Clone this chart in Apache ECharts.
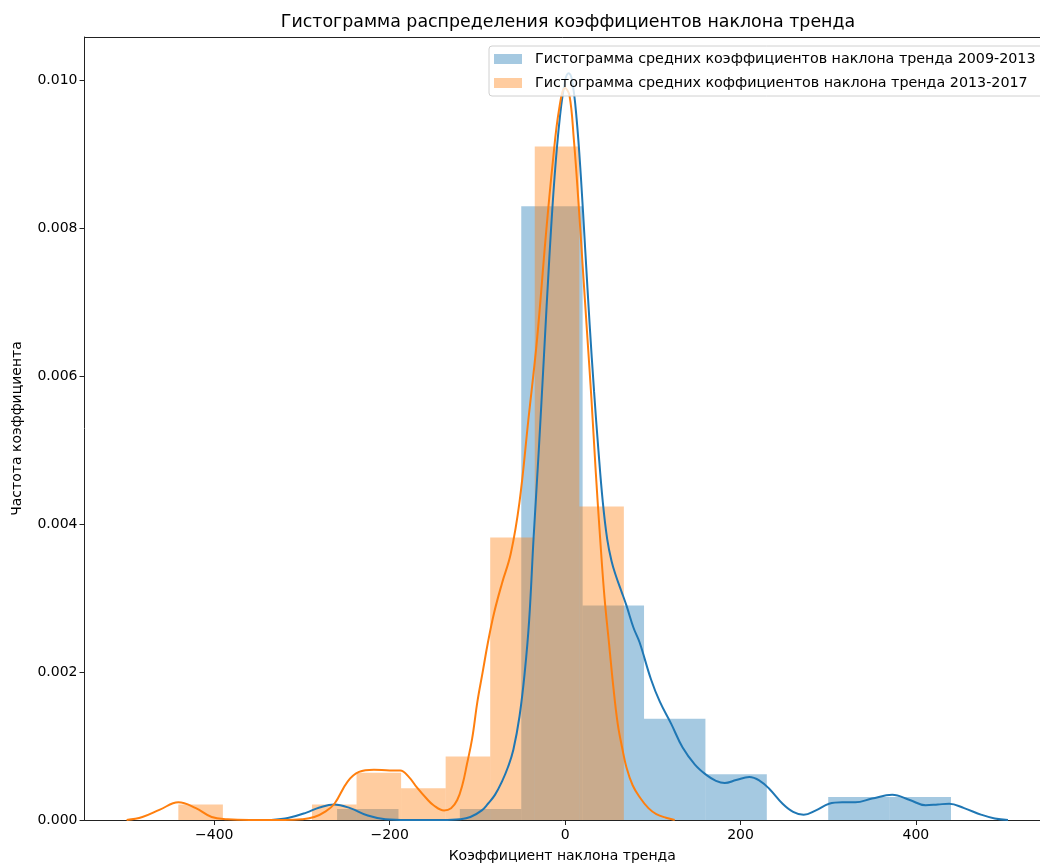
<!DOCTYPE html>
<html>
<head>
<meta charset="utf-8">
<script src="https://cdn.jsdelivr.net/npm/echarts@6/dist/echarts.min.js"></script>
<style>
html,body{margin:0;padding:0;background:#fff;}
#chart{width:1040px;height:868px;}
</style>
</head>
<body>
<div id="chart"></div>
<script>
// ---- Data ----
const titleText = 'Гистограмма распределения коэффициентов наклона тренда';
const xAxisTitle = 'Коэффициент наклона тренда';
const yAxisTitle = 'Частота коэффициента';
const blueName = 'Гистограмма средних коэффициентов наклона тренда 2009-2013';
const orangeName = 'Гистограмма средних коффициентов наклона тренда 2013-2017';

const xTicks = [-400, -200, 0, 200, 400];
const yTicks = [0, 0.002, 0.004, 0.006, 0.008, 0.010];

// histogram 2009-2013 (bin edges and density heights)
const blueEdges = [-260, -190, -120, -50, 20, 90, 160, 230, 300, 370, 440];
const blueHeights = [0.00015, 0, 0.00015, 0.0083, 0.0029, 0.00137, 0.00062, 0, 0.00031, 0.00031];

// histogram 2013-2017
const orangeEdges = [-441, -390.2, -339.4, -288.6, -237.8, -187, -136.2, -85.4, -34.6, 16.2, 67];
const orangeHeights = [0.00021, 0, 0, 0.00021, 0.00064, 0.00043, 0.00086, 0.00382, 0.00911, 0.00424];

// KDE curves
const blueKde = [
  [-335, 0], [-315, 0.00003], [-295, 0.0001], [-280, 0.00017], [-263, 0.00021], [-245, 0.00016],
  [-225, 0.00006], [-205, 0.00001], [-180, 0], [-140, 0], [-120, 0.00001], [-108, 0.00004],
  [-95, 0.00013], [-88, 0.00022], [-80, 0.00034], [-72, 0.00052], [-65, 0.00072], [-59, 0.00095],
  [-52, 0.0014], [-46, 0.0020], [-41, 0.0027], [-36, 0.0038], [-30, 0.0050], [-24, 0.0063],
  [-18, 0.0076], [-12, 0.0087], [-6, 0.0095], [0, 0.0100], [4, 0.0101], [8, 0.0100], [13, 0.0095],
  [18, 0.0087], [23, 0.0077], [28, 0.0067], [33, 0.0058], [38, 0.0050], [43, 0.0043], [48, 0.0038],
  [53, 0.0035], [58, 0.0033], [64, 0.0031], [70, 0.0029], [78, 0.0026], [85, 0.0024], [98, 0.0019],
  [108, 0.0016], [121, 0.0013], [134, 0.00098], [148, 0.00075], [161, 0.00061], [172, 0.00053],
  [182, 0.0005], [195, 0.00054], [210, 0.00058], [222, 0.00053], [233, 0.00042], [248, 0.00022],
  [260, 0.00011], [272, 0.00007], [286, 0.00013], [301, 0.00022], [316, 0.00024], [331, 0.00024],
  [350, 0.00029], [373, 0.00034], [393, 0.00027], [411, 0.0002], [425, 0.00021], [438, 0.00022],
  [455, 0.00016], [475, 0.00007], [490, 0.00002], [505, 0]
];
const orangeKde = [
  [-500, 0], [-482, 0.00004], [-462, 0.00014], [-441, 0.00024], [-421, 0.00016], [-403, 0.00004],
  [-385, 0.00001], [-360, 0], [-320, 0], [-300, 0.00001], [-286, 0.00004], [-274, 0.00011],
  [-263, 0.00022], [-248, 0.00052], [-235, 0.00065], [-218, 0.00068], [-200, 0.00067], [-188, 0.00067],
  [-178, 0.00058], [-169, 0.00044], [-158, 0.00029], [-150, 0.0002], [-138, 0.00013], [-130, 0.00016],
  [-123, 0.00027], [-117, 0.00048], [-112, 0.00075], [-106, 0.0011], [-100, 0.0016], [-94, 0.0020],
  [-88, 0.0024], [-81, 0.0028], [-72, 0.0032], [-62, 0.0036], [-52, 0.0043], [-42, 0.0054],
  [-32, 0.0065], [-22, 0.0079], [-14, 0.0089], [-7, 0.0096], [0, 0.0099], [5, 0.0098], [10, 0.0092],
  [15, 0.0084], [20, 0.0075], [25, 0.0066], [30, 0.0057], [35, 0.0047], [40, 0.0038], [45, 0.0030],
  [50, 0.0024], [55, 0.0018], [60, 0.0013], [65, 0.00098], [70, 0.00071], [77, 0.00047], [85, 0.00031],
  [95, 0.00016], [104, 0.00008], [115, 0.00003], [125, 0]
];

// ---- Styles ----
const FONT = 'DejaVu Sans';
const blueLine = '#1f77b4';
const orangeLine = '#ff7f0e';
const blueFill = 'rgba(31,119,180,0.4)';
const orangeFill = 'rgba(255,127,14,0.4)';
const axisCol = '#222';
const X_MIN = -548, X_MAX = 541.5;

function histSeries(name, edges, heights, color, z) {
  const data = heights.map((h, i) => [edges[i], edges[i + 1], h]);
  return {
    type: 'custom', name: name, data: data, z: z,
    encode: { x: [0, 1], y: 2 },
    itemStyle: { color: color },
    renderItem: function (params, api) {
      const h = api.value(2);
      if (!h) return null;
      const p0 = api.coord([api.value(0), h]);
      const p1 = api.coord([api.value(1), 0]);
      return {
        type: 'rect',
        shape: { x: p0[0], y: p0[1], width: p1[0] - p0[0], height: p1[1] - p0[1] },
        style: { fill: color }
      };
    }
  };
}
function lineSeries(name, data, color, z) {
  return {
    type: 'line', name: name, data: data, z: z, showSymbol: false, symbol: 'none',
    smooth: 0.4,
    lineStyle: { color: color, width: 2 }, itemStyle: { color: color },
    silent: true
  };
}

const chart = echarts.init(document.getElementById('chart'), null, { renderer: 'canvas' });
chart.setOption({
  animation: false,
  backgroundColor: '#fff',
  textStyle: { fontFamily: FONT },
  title: {
    text: titleText, left: 568, top: 14, textAlign: 'center', padding: 0,
    textStyle: { fontFamily: FONT, fontSize: 17.4, fontWeight: 'normal', color: '#000' }
  },
  grid: {
    left: 84.5, right: 0, top: 37, bottom: 42, containLabel: false, show: false
  },
  legend: {
    data: [blueName, orangeName], orient: 'vertical', left: 489, top: 46,
    padding: [5, 14, 5, 5], itemGap: 8, itemWidth: 28, itemHeight: 10, icon: 'rect',
    backgroundColor: 'rgba(255,255,255,0.8)', borderColor: '#d0d0d0', borderWidth: 1, borderRadius: 3,
    textStyle: { fontFamily: FONT, fontSize: 14.3, color: '#000', lineHeight: 16, padding: [0, 0, 0, 8] },
    selectedMode: false, z: 10
  },
  xAxis: [{
    type: 'value', min: X_MIN, max: X_MAX, position: 'bottom',
    name: xAxisTitle, nameLocation: 'middle', nameGap: 29,
    nameTextStyle: { fontFamily: FONT, fontSize: 14, color: '#000' },
    axisLine: { show: true, onZero: false, lineStyle: { color: axisCol, width: 1 } },
    axisTick: { show: true, length: 5, lineStyle: { color: axisCol }, customValues: xTicks },
    axisLabel: {
      customValues: xTicks, margin: 8, fontFamily: FONT, fontSize: 14, color: '#000',
      formatter: v => (v < 0 ? '\u2212' + Math.abs(v) : String(v))
    },
    splitLine: { show: false }
  }, {
    type: 'value', min: X_MIN, max: X_MAX, position: 'top',
    axisLine: { show: true, onZero: false, lineStyle: { color: axisCol, width: 1 } },
    axisTick: { show: false }, axisLabel: { show: false }, splitLine: { show: false }
  }],
  yAxis: {
    type: 'value', min: 0, max: 0.01059,
    name: yAxisTitle, nameLocation: 'middle', nameGap: 60, nameRotate: 90,
    nameTextStyle: { fontFamily: FONT, fontSize: 14, color: '#000' },
    axisLine: { show: true, onZero: false, lineStyle: { color: axisCol, width: 1 } },
    axisTick: { show: true, length: 5, lineStyle: { color: axisCol }, customValues: yTicks },
    axisLabel: {
      customValues: yTicks, margin: 7, fontFamily: FONT, fontSize: 14, color: '#000',
      formatter: v => v.toFixed(3)
    },
    splitLine: { show: false }
  },
  series: [
    histSeries(blueName, blueEdges, blueHeights, blueFill, 1),
    histSeries(orangeName, orangeEdges, orangeHeights, orangeFill, 2),
    lineSeries('KDE 2009-2013', blueKde, blueLine, 3),
    lineSeries('KDE 2013-2017', orangeKde, orangeLine, 4)
  ]
});
</script>
</body>
</html>
